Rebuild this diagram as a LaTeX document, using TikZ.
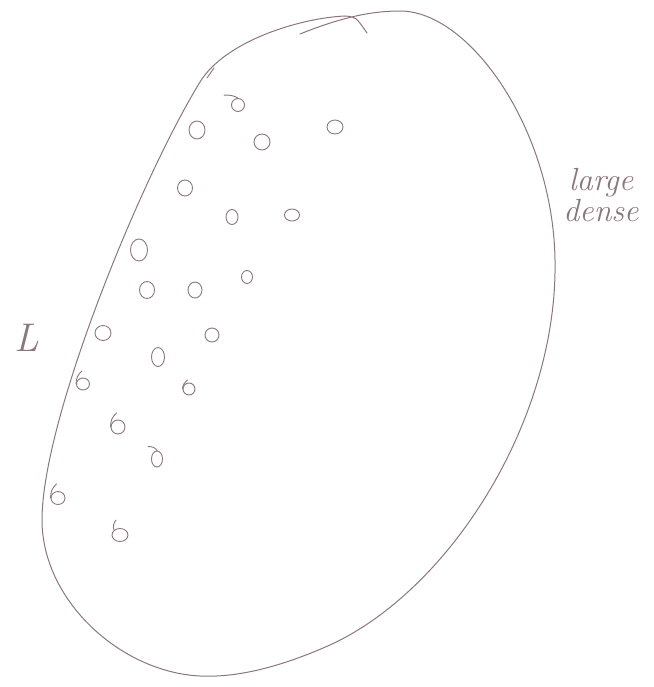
\documentclass[tikz,border=0pt]{standalone}
\usepackage{fontspec}
\usetikzlibrary{shapes.geometric,positioning}
\definecolor{pencil}{RGB}{140,118,124}
\tikzset{
  outline/.style = {draw=pencil, line width=1pt, line cap=round, line join=round},
  dot/.style     = {ellipse, draw=pencil, line width=0.9pt, inner sep=0pt},
  tail/.style    = {draw=pencil, line width=0.9pt, line cap=round},
  hand/.style    = {text=pencil, font=\fontsize{32}{32}\selectfont\itshape, inner sep=0pt},
}

\begin{document}
\begin{tikzpicture}[x=1pt, y=-1pt]
  \useasboundingbox (0,0) rectangle (653,687);

  % the egg-shaped region, one loose stroke
  \draw[outline] (300,34) .. controls (340,18) and (370,11) .. (400,11)
    .. controls (470,11) and (553,130) .. (555,260)
    .. controls (558,420) and (450,590) .. (330,645)
    .. controls (285,665) and (240,678) .. (200,676)
    .. controls (120,672) and (42,600) .. (42,520)
    .. controls (42,420) and (140,180) .. (200,82)
    .. controls (225,41) and (300,18) .. (345,16)
    .. controls (356,17) .. (367,33);
  \draw[tail] (207,78) -- (214,68);

  % small points
  \foreach \x/\y/\w/\h [count=\i] in {
      238/105/13/13, 197/130/16/18, 262/142/16/16, 335/127/16/14,
      185/188/15/16, 232/217/12/15, 292/215/15/12, 139/250/17/22,
      147/290/15/17, 195/290/14/16, 247/277/11/13, 103/333/16/15,
      212/335/14/14, 158/357/13/19, 83/384/13/12, 189/389/12/12,
      118/427/14/14, 157/459/11/16, 58/498/14/13, 120/535/16/13}
    \node[dot, minimum width=\w pt, minimum height=\h pt] (d\i) at (\x,\y) {};

  % tails on a few of them
  \draw[tail] (d1.north) to[out=150, in=0] ++(-14,-3);
  \draw[tail] (d15.west) to[out=90, in=220] ++(6,-13);
  \draw[tail] (d16.west) to[out=90, in=220] ++(5,-9);
  \draw[tail] (d17.west) to[out=90, in=220] ++(6,-14);
  \draw[tail] (d18.north) to[out=120, in=0] ++(-9,-4);
  \draw[tail] (d19.west) to[out=90, in=220] ++(6,-14);
  \draw[tail] (d20.north west) to[out=110, in=230] ++(2,-10);

  % labels
  \node[hand] (large) at (601,183) {large};
  \node[hand, below=2pt of large] (dense) {dense};
  \node[hand, font=\fontsize{40}{40}\selectfont\itshape] (ell) at (27,338) {L};

\end{tikzpicture}
\end{document}
